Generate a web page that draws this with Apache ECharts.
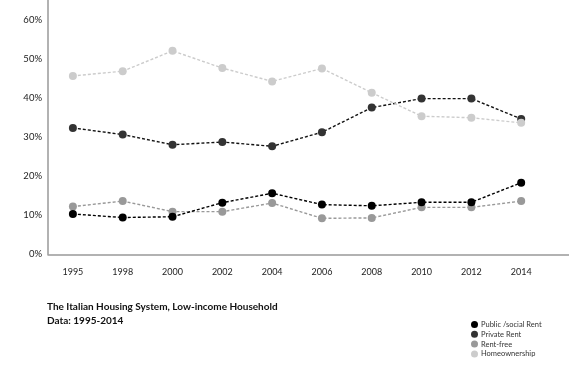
<!DOCTYPE html>
<html>
<head>
<meta charset="utf-8">
<script src="https://cdn.jsdelivr.net/npm/echarts@6/dist/echarts.min.js"></script>
<style>html,body{margin:0;padding:0;background:#fff;}#c{width:569px;height:368px;}</style>
</head>
<body>
<div id="c"></div>
<script>
const years = ['1995','1998','2000','2002','2004','2006','2008','2010','2012','2014'];
const publicSocialRent = [10.3, 9.4, 9.6, 13.2, 15.6, 12.7, 12.4, 13.3, 13.3, 18.3];
const privateRent = [32.3, 30.6, 28.0, 28.7, 27.6, 31.2, 37.5, 39.8, 39.8, 34.6];
const rentFree = [12.2, 13.6, 10.9, 10.9, 13.1, 9.2, 9.3, 12.0, 12.0, 13.6];
const homeownership = [45.6, 46.8, 52.0, 47.6, 44.2, 47.5, 41.3, 35.3, 34.9, 33.6];
const seriesNames = ['Public /social Rent', 'Private Rent', 'Rent-free', 'Homeownership'];
const yTicks = [0, 10, 20, 30, 40, 50, 60];

const FONT = 'Lato';
function pts(arr) { return arr.map((v, i) => [2 * i + 1, v]); }

function mk(name, data, lineColor, dotColor, z) {
  return {
    name: name, type: 'line', data: pts(data), z: z,
    symbol: 'circle', symbolSize: 8, showSymbol: true,
    lineStyle: { color: lineColor, width: 1.4, type: [3, 2] },
    itemStyle: { color: dotColor, borderWidth: 0 },
    emphasis: { disabled: true }, animation: false
  };
}

const chart = echarts.init(document.getElementById('c'), null, { renderer: 'canvas' });
chart.setOption({
  backgroundColor: '#fff',
  animation: false,
  textStyle: { fontFamily: FONT },
  title: {
    text: 'The Italian Housing System, Low-income Household\nData: 1995-2014',
    left: 42, top: 294.5,
    textStyle: { fontFamily: FONT, fontSize: 10, fontWeight: 'bold', color: '#111', lineHeight: 14 }
  },
  legend: {
    orient: 'vertical', left: 471, top: 320.5, padding: 0, height: 47,
    itemWidth: 7, itemHeight: 7, itemGap: 1.8, icon: 'circle',
    data: seriesNames,
    textStyle: { fontFamily: FONT, fontSize: 7.5, color: '#333', padding: [0, 0, 0, -2] }
  },
  grid: { left: 48, top: 0, right: 0, bottom: 113.7 },
  xAxis: {
    type: 'value', min: 0, max: 20.92, interval: 1,
    axisLine: { show: true, lineStyle: { color: '#999', width: 1.5 } },
    axisTick: { show: false },
    splitLine: { show: false },
    axisLabel: {
      margin: 13, fontSize: 9, color: '#222', fontFamily: FONT,
      formatter: v => (Number.isInteger(v) && v % 2 === 1) ? years[(v - 1) / 2] : '',
      showMinLabel: false, showMaxLabel: false
    }
  },
  yAxis: {
    type: 'value', min: 0, max: 65, interval: 10,
    axisLine: { show: true, lineStyle: { color: '#999', width: 1.5 } },
    axisTick: { show: false },
    splitLine: { show: false },
    axisLabel: {
      margin: 6, fontSize: 9.5, color: '#222', fontFamily: FONT,
      formatter: v => yTicks.indexOf(v) >= 0 ? v + '%' : ''
    }
  },
  series: [
    mk(seriesNames[2], rentFree, '#999', '#999', 2),
    mk(seriesNames[0], publicSocialRent, '#000', '#000', 3),
    mk(seriesNames[1], privateRent, '#111', '#333', 4),
    mk(seriesNames[3], homeownership, '#ccc', '#ccc', 5)
  ]
});
</script>
</body>
</html>
